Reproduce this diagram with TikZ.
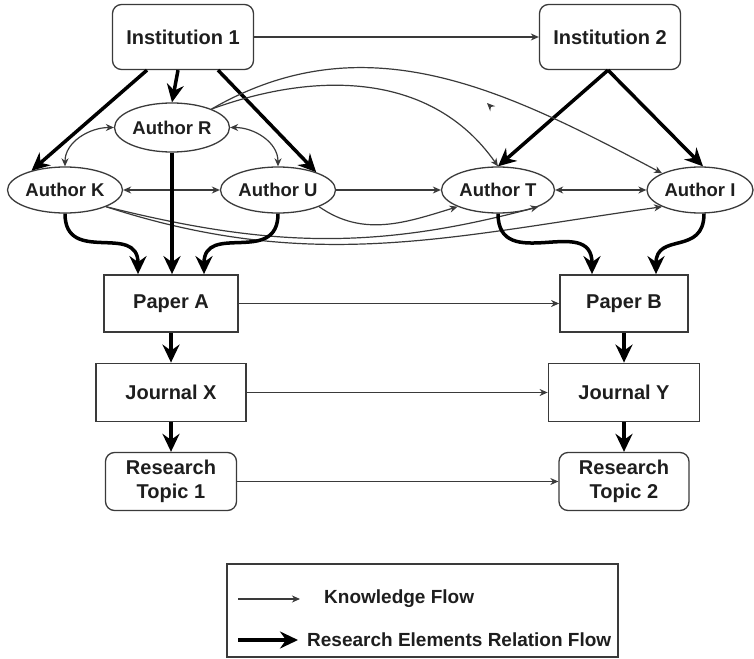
\documentclass[tikz,border=0pt]{standalone}
\usepackage{fontspec}
\setmainfont{Liberation Sans}
\usetikzlibrary{shapes.geometric,arrows.meta}
\definecolor{ink}{HTML}{1E1E1E}
\definecolor{edge}{HTML}{3A3A3A}

\begin{document}
\begin{tikzpicture}[x=1pt, y=1pt, node distance=89pt, inner sep=0pt]
    \tikzstyle{inst}=[rectangle, rounded corners=9pt, draw=edge, line width=1.3pt, text=ink, minimum width=141pt, minimum height=65pt, font=\bfseries\fontsize{20}{24}\selectfont]
    \tikzstyle{auth}=[ellipse, draw=edge, line width=1.3pt, text=ink, minimum width=115pt, minimum height=46pt, font=\bfseries\fontsize{18.5}{22}\selectfont]
    \tikzstyle{doc}=[rectangle, draw=edge, line width=1.8pt, text=ink, minimum height=57pt, font=\bfseries\fontsize{20}{24}\selectfont]
    \tikzstyle{topic}=[inst, align=center, minimum width=131pt, minimum height=58pt]
    \tikzstyle{keytext}=[anchor=west, text=ink, font=\bfseries\fontsize{19}{22}\selectfont]
    \tikzstyle{kf}=[->, draw=edge, >={Stealth[length=8pt,width=7pt,inset=2.5pt]}, line width=1.2pt]
    \tikzstyle{rf}=[->, draw=black, >={Stealth[length=18pt,width=17pt,inset=6pt]}, line width=3.5pt]

    \useasboundingbox (0,0) rectangle (754,-658);

    \node[inst] (I1) at (183,-37) {Institution 1};
    \node[inst] (I2) at (610,-37) {Institution 2};

    \node[auth, minimum height=49pt] (AR) at (172,-127.5) {Author R};
    \node[auth] (AK) at (65,-190) {Author K};
    \node[auth] (AU) at (278,-190) {Author U};
    \node[auth, minimum width=113pt] (AT) at (498,-190) {Author T};
    \node[auth, minimum width=106pt] (AI) at (700,-190) {Author I};

    \node[doc, minimum width=134pt] (PA) at (171,-303.5) {Paper A};
    \node[doc, minimum width=150pt, minimum height=58pt] (JX) [below of=PA] {Journal X};
    \node[topic] (T1) [below of=JX] {Research\\Topic 1};
    \node[doc, minimum width=128pt] (PB) at (624,-303.5) {Paper B};
    \node[doc, minimum width=151pt, minimum height=58pt] (JY) [below of=PB] {Journal Y};
    \node[topic, minimum width=130pt] (T2) [below of=JY] {Research\\Topic 2};

    \draw[kf] (I1) -- (I2);
    \draw[kf] (PA) -- (PB);
    \draw[kf] (JX) -- (JY);
    \draw[kf] (T1) -- (T2);

    \draw[rf] ([xshift=-36pt]I1.south) -- (AK.150);
    \draw[rf] ([xshift=-5pt]I1.south) -- (AR.north);
    \draw[rf] ([xshift=35pt]I1.south) -- (AU.25);
    \draw[rf] ([xshift=-2pt]I2.south) -- (AT.north);
    \draw[rf] ([xshift=-2pt]I2.south) -- ([xshift=3pt]AI.north);

    \draw[kf, <->] (AR.west) to[out=180, in=90] (AK.north);
    \draw[kf, <->] (AR.east) to[out=0, in=90] (AU.north);
    \draw[kf, <->] (AK) -- (AU);
    \draw[kf] (AU) -- (AT);
    \draw[kf, <->] (AT) -- (AI);

    \draw[kf] (AR.25) to[out=20, in=125] (AT.north);
    \draw[kf] (AR.25) to[out=30, in=152] (AI.north west);
    \draw[kf] (AU.south east) to[out=-35, in=-163] (AT.south west);
    \draw[kf] (AK.south east) to[out=-14, in=-165] (AT.south east);
    \draw[kf] (AK.south east) to[out=-18, in=-172] (AI.south west);

    \coordinate (s1) at (491,-107);
    \coordinate (s2) at (487,-103);
    \draw[kf] (s1) -- (s2);

    \draw[rf] (AK.south) to[out=-90, in=90, looseness=1.4] ([xshift=-33pt]PA.north);
    \draw[rf] (AR.south) -- (AR.south |- PA.north);
    \draw[rf] (AU.south) to[out=-90, in=90, looseness=1.4] ([xshift=33pt]PA.north);
    \draw[rf] (AT.south) to[out=-90, in=90, looseness=1.4] ([xshift=-32pt]PB.north);
    \draw[rf] ([xshift=4pt]AI.south) to[out=-90, in=90, looseness=1.4] ([xshift=32pt]PB.north);

    \draw[rf] (PA) -- (JX);
    \draw[rf] (JX) -- (T1);
    \draw[rf] (PB) -- (JY);
    \draw[rf] (JY) -- (T2);

    \node[draw=edge, line width=1.3pt, minimum width=391pt, minimum height=93pt] (key) at (422.5,-610.5) {};
    \coordinate (k1) at (238,-599);
    \coordinate (k2) at (300,-599);
    \coordinate (k3) at (238,-640);
    \coordinate (k4) at (298,-640);
    \draw[kf] (k1) -- (k2);
    \draw[rf] (k3) -- (k4);
    \node[keytext] (kt1) at (324,-599) {Knowledge Flow};
    \node[keytext] (kt2) at (307,-640) {Research Elements Relation Flow};
\end{tikzpicture}
\end{document}
